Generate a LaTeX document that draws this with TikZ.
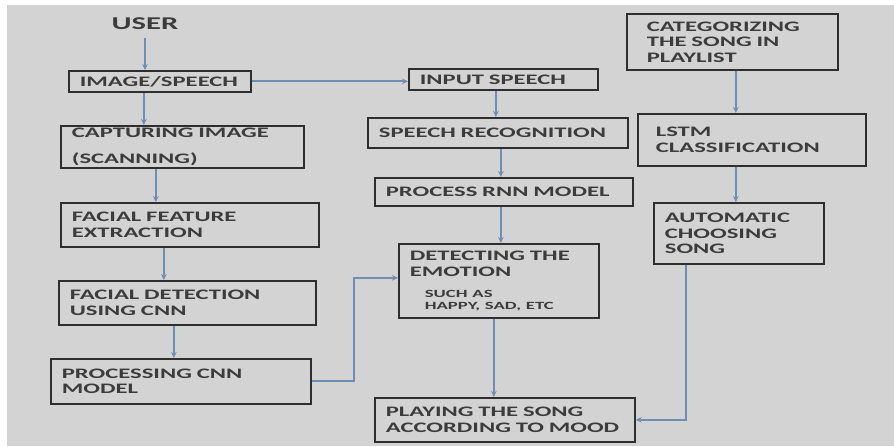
\documentclass[tikz,border=0pt]{standalone}
\usepackage{fontspec}
\setmainfont{Carlito}[FakeStretch=1.7]
\usetikzlibrary{arrows.meta}
\definecolor{fundo}{HTML}{D3D3D3}
\definecolor{azulseta}{HTML}{6F8DB5}
\definecolor{texto}{HTML}{3C3C3C}
\definecolor{borda}{HTML}{2E2E2E}

\begin{document}
\begin{tikzpicture}[x=1pt, y=-1pt,
    caixa/.style={draw=borda, line width=1.7pt, anchor=north west, align=left,
        inner xsep=11pt, inner ysep=2pt, text=texto,
        font=\fontsize{14.5}{15.5}\selectfont\bfseries},
    seta/.style={draw=azulseta, line width=2.1pt, -{Stealth[length=6pt, width=5.5pt]}}]
    % Fundo
    \useasboundingbox (0,0) rectangle (894,447);
    \fill[fundo] (7,5) rectangle (894,446);
    % Coluna da imagem
    \node[text=texto, font=\fontsize{18}{20}\selectfont\bfseries] (user) at (145,24) {USER};
    \node[caixa, text width=160pt, minimum height=21pt] (img) at (68,70) {IMAGE/SPEECH};
    \node[caixa, text width=221pt, minimum height=42pt] (cap) at (60,125) {CAPTURING IMAGE\\[10pt](SCANNING)};
    \node[caixa, text width=236pt, minimum height=44pt] (feat) at (60,202) {FACIAL FEATURE\\EXTRACTION};
    \node[caixa, text width=235pt, minimum height=44pt] (det) at (58,280) {FACIAL DETECTION\\USING CNN};
    \node[caixa, text width=238pt, minimum height=45pt] (proc) at (50,358) {PROCESSING CNN\\MODEL};
    % Coluna da fala
    \node[caixa, text width=167pt, minimum height=21pt] (inp) at (408,68) {INPUT SPEECH};
    \node[caixa, text width=238pt, minimum height=30pt] (rec) at (367,117) {SPEECH RECOGNITION};
    \node[caixa, text width=236pt, minimum height=28pt] (rnn) at (374,177) {PROCESS RNN MODEL};
    \node[caixa, text width=178pt, minimum height=74pt] (emo) at (398,243)
        {DETECTING THE\\EMOTION\\[6pt]{\fontsize{11}{12}\selectfont\hspace*{15pt}SUCH AS}\\[-4pt]{\fontsize{11}{12}\selectfont\hspace*{15pt}HAPPY, SAD, ETC}};
    \node[caixa, text width=238pt, minimum height=44pt] (play) at (374,397) {PLAYING THE SONG\\ACCORDING TO MOOD};
    % Coluna das musicas
    \node[caixa, inner xsep=20pt, text width=171pt, minimum height=56pt] (cat) at (626,13) {CATEGORIZING\\THE SONG IN\\PLAYLIST};
    \node[caixa, inner xsep=18pt, text width=192pt, minimum height=52pt] (lstm) at (637,113) {LSTM\\CLASSIFICATION};
    \node[caixa, text width=148pt, minimum height=61pt] (auto) at (653,202) {AUTOMATIC\\CHOOSING\\SONG};
    % Setas
    \draw[seta] ([yshift=-4pt]user.south) -- (user.south |- img.north);
    \draw[seta] ([xshift=-16pt]img.south) -- ([xshift=-16pt]img.south |- cap.north);
    \draw[seta] ([xshift=-26.5pt]cap.south) -- ([xshift=-26.5pt]cap.south |- feat.north);
    \draw[seta] ([xshift=-26pt]feat.south) -- ([xshift=-26pt]feat.south |- det.north);
    \draw[seta] ([xshift=-13.5pt]det.south) -- ([xshift=-13.5pt]det.south |- proc.north);
    \draw[seta] (proc.east) -- ++(42,0) |- ([yshift=3pt]emo.west);
    \draw[seta] (img.east) -- (img.east -| inp.west);
    \draw[seta] ([xshift=-7.5pt]inp.south) -- ([xshift=-7.5pt]inp.south |- rec.north);
    \draw[seta] ([xshift=3pt]rec.south) -- ([xshift=3pt]rec.south |- rnn.north);
    \draw[seta] ([xshift=-3pt]rnn.south) -- ([xshift=-3pt]rnn.south |- emo.north);
    \draw[seta] ([xshift=-5pt]emo.south) -- ([xshift=-5pt]emo.south |- play.north);
    \draw[seta] ([xshift=3.5pt]cat.south) -- ([xshift=3.5pt]cat.south |- lstm.north);
    \draw[seta] ([xshift=-16pt]lstm.south) -- ([xshift=-16pt]lstm.south |- auto.north);
    \draw[seta] ([xshift=-53pt]auto.south) |- (play.east);
\end{tikzpicture}
\end{document}
